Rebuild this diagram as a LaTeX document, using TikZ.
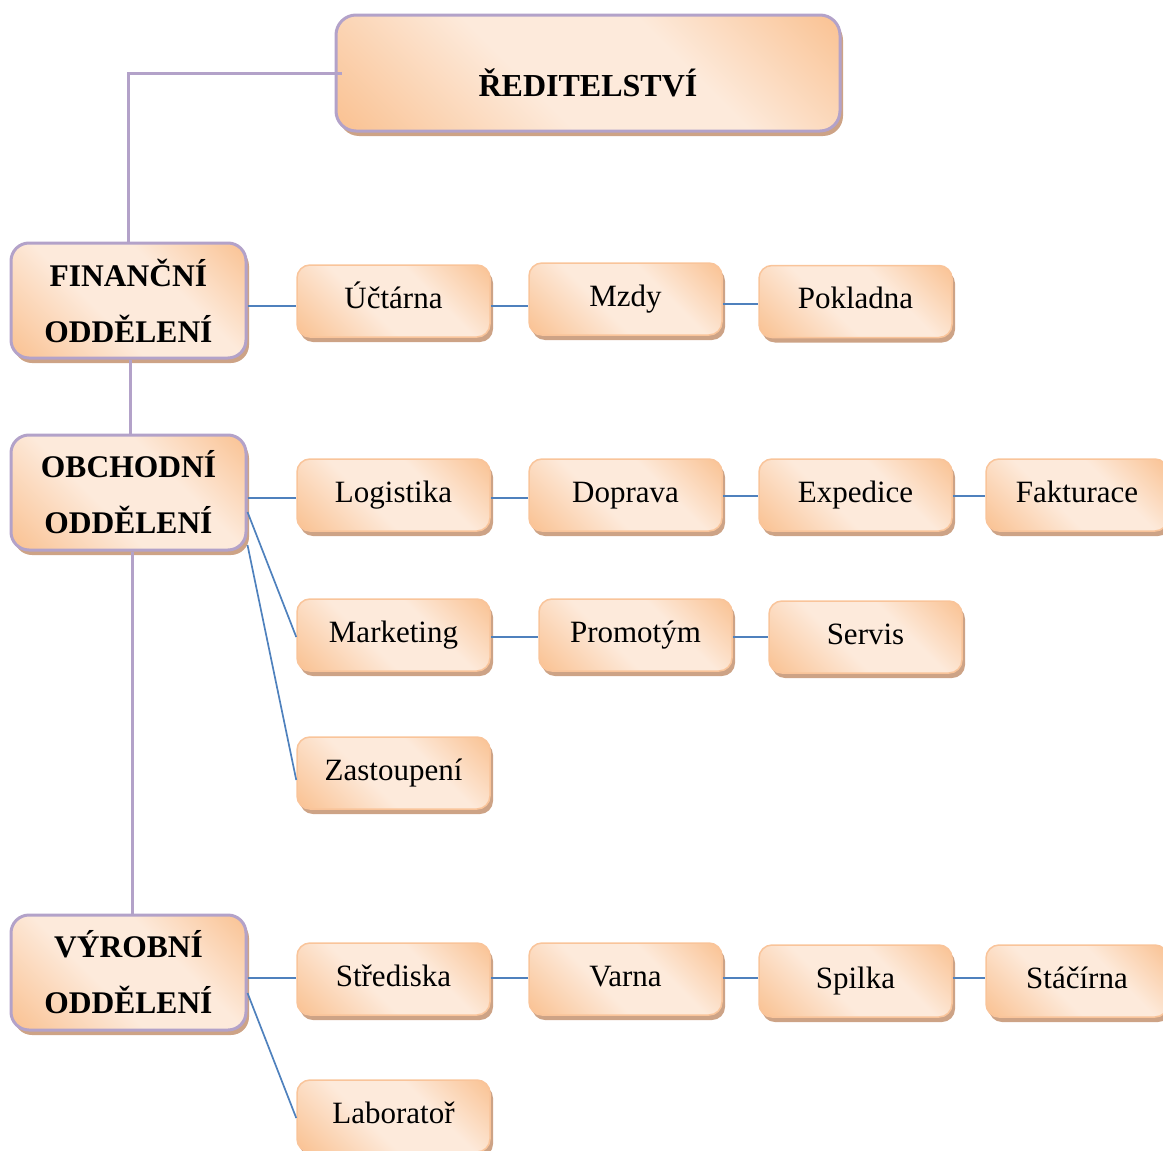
\documentclass[tikz,border=0pt]{standalone}
\usepackage{fontspec}
\setmainfont{Liberation Serif}
\usetikzlibrary{shadows}
\definecolor{orD}{HTML}{F9BD8A}
\definecolor{orL}{HTML}{FDEADB}
\definecolor{orB}{HTML}{F9C49A}
\definecolor{purp}{HTML}{B3A2C9}
\definecolor{blu}{HTML}{4F81BD}
\definecolor{shad}{HTML}{CDA386}
\pgfdeclarehorizontalshading{boxgrad}{100bp}{color(0bp)=(orD); color(12bp)=(orD); color(42bp)=(orL); color(62bp)=(orL); color(88bp)=(orD); color(100bp)=(orD)}
\tikzset{
  shaded/.style={shading=boxgrad, shading angle=45},
  smallbox/.style={shaded, rounded corners=13pt, draw=orB, line width=1.5pt,
    minimum width=193pt, minimum height=72pt, inner sep=0pt,
    text height=22pt, text depth=8pt,
    general shadow={fill=shad, shadow xshift=3pt, shadow yshift=-5pt},
    font=\fontsize{31}{36}\selectfont},
  deptbox/.style={shaded, rounded corners=18pt, draw=purp, line width=3pt,
    minimum width=235pt, minimum height=115pt, inner sep=0pt, align=center,
    general shadow={fill=shad, shadow xshift=3pt, shadow yshift=-5pt},
    font=\fontsize{31.5}{56}\selectfont\bfseries},
  topbox/.style={shaded, rounded corners=20pt, draw=purp, line width=3pt,
    minimum width=504pt, minimum height=116pt, inner sep=0pt,
    text height=46pt, text depth=0pt,
    general shadow={fill=shad, shadow xshift=3pt, shadow yshift=-5pt},
    font=\fontsize{32}{36}\selectfont\bfseries},
  purpline/.style={draw=purp, line width=3pt},
  blueline/.style={draw=blu, line width=1.7pt},
}
\begin{document}
\begin{tikzpicture}[x=1pt,y=-1pt]
\useasboundingbox (0,0) rectangle (1163,1151);
\clip (0,0) rectangle (1163,1151);
\node[topbox] (red) at (588,73) {ŘEDITELSTVÍ};
\node[deptbox] (fin) at (128.5,300.5) {FINANČNÍ\\ODDĚLENÍ};
\node[deptbox] (obch) at (128.5,492.5) {OBCHODNÍ\\ODDĚLENÍ};
\node[deptbox] (vyr) at (128.5,972.5) {VÝROBNÍ\\ODDĚLENÍ};
% purple connectors
\draw[purpline] ([xshift=7pt]red.west) -| (fin.north);
\draw[purpline] ([xshift=1.5pt]fin.south) -- ([xshift=1.5pt]obch.north);
\draw[purpline] ([xshift=3.5pt]obch.south) -- ([xshift=3.5pt]vyr.north);
% small boxes
\node[smallbox] (uct) at (393.5,301) {Účtárna};
\node[smallbox] (mzdy) at (625.5,299) {Mzdy};
\node[smallbox] (pok) at (855.5,301.5) {Pokladna};
\node[smallbox] (log) at (393.5,495) {Logistika};
\node[smallbox] (dop) at (625.5,495) {Doprava};
\node[smallbox] (exp) at (855.5,495) {Expedice};
\node[smallbox, minimum width=182pt] (fak) at (1077,495) {Fakturace};
\node[smallbox] (mar) at (393.5,635) {Marketing};
\node[smallbox] (pro) at (635.5,635) {Promotým};
\node[smallbox] (ser) at (865.5,637) {Servis};
\node[smallbox] (zas) at (393.5,773) {Zastoupení};
\node[smallbox] (str) at (393.5,979) {Střediska};
\node[smallbox] (var) at (625.5,979) {Varna};
\node[smallbox] (spi) at (855.5,981) {Spilka};
\node[smallbox, minimum width=182pt] (sta) at (1077,981) {Stáčírna};
\node[smallbox] (lab) at (393.5,1116) {Laboratoř};
% blue connectors
\draw[blueline] ([yshift=-5.5pt]fin.east) -- ([yshift=-5.5pt]fin.east -| uct.west);
\draw[blueline] ([yshift=-5pt]uct.east) -- ([yshift=-5pt]uct.east -| mzdy.west);
\draw[blueline] ([yshift=-5pt]mzdy.east) -- ([yshift=-5pt]mzdy.east -| pok.west);
\draw[blueline] ([yshift=-5.5pt]obch.east) -- ([yshift=-5.5pt]obch.east -| log.west);
\draw[blueline] ([yshift=-3pt]log.east) -- ([yshift=-3pt]log.east -| dop.west);
\draw[blueline] ([yshift=-1pt]dop.east) -- ([yshift=-1pt]dop.east -| exp.west);
\draw[blueline] ([yshift=-1pt]exp.east) -- ([yshift=-1pt]exp.east -| fak.west);
\draw[blueline] ([yshift=-19.5pt]obch.east) -- ([yshift=-2pt]mar.west);
\draw[blueline] ([yshift=-52.5pt]obch.east) -- ([yshift=-7pt]zas.west);
\draw[blueline] ([yshift=-2pt]mar.east) -- ([yshift=-2pt]mar.east -| pro.west);
\draw[blueline] ([yshift=-2pt]pro.east) -- ([yshift=-2pt]pro.east -| ser.west);
\draw[blueline] ([yshift=-5.5pt]vyr.east) -- ([yshift=-5.5pt]vyr.east -| str.west);
\draw[blueline] ([yshift=1pt]str.east) -- ([yshift=1pt]str.east -| var.west);
\draw[blueline] ([yshift=1pt]var.east) -- ([yshift=1pt]var.east -| spi.west);
\draw[blueline] ([yshift=3pt]spi.east) -- ([yshift=3pt]spi.east -| sta.west);
\draw[blueline] ([yshift=-20.5pt]vyr.east) -- ([yshift=-2pt]lab.west);
\end{tikzpicture}
\end{document}
